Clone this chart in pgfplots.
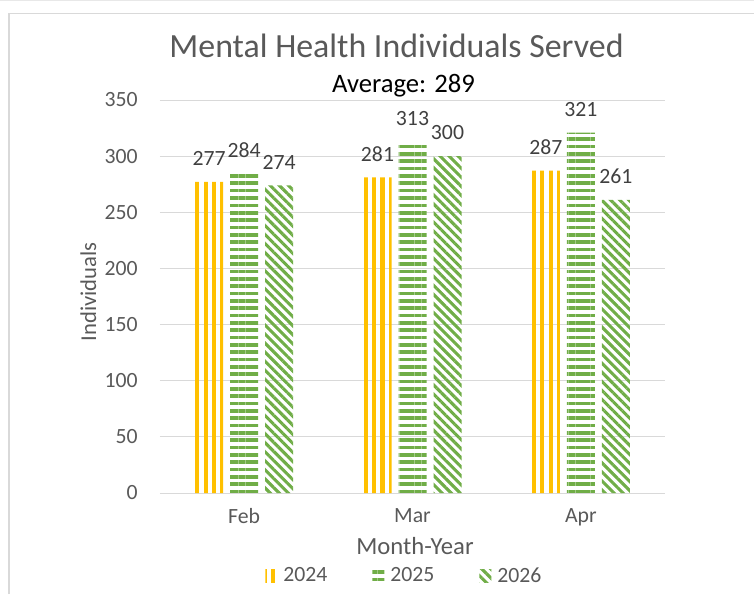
\documentclass[border=0pt]{standalone}
\usepackage{pgfplots}
\pgfplotsset{compat=1.18}
\usepackage{fontspec}
\setmainfont{Carlito}
\usetikzlibrary{patterns.meta}
\definecolor{ylw}{HTML}{FFC000}
\definecolor{grn}{HTML}{70AD47}
\definecolor{txt}{HTML}{595959}
\definecolor{lbl}{HTML}{404040}
\definecolor{grd}{HTML}{D9D9D9}
\begin{document}
\begin{tikzpicture}
\useasboundingbox (0,0) rectangle (565.5pt,445.5pt);
\draw[grd!60, line width=0.75pt] (0,445.1pt) -- (565.5pt,445.1pt);
\draw[grd, line width=0.75pt] (6pt,435.4pt) -- (565.5pt,435.4pt);
\draw[grd, line width=1.5pt] (6.75pt,0) -- (6.75pt,435.4pt);
\begin{axis}[
  at={(120pt,75.75pt)}, anchor=south west,
  scale only axis, width=378.75pt, height=294.75pt,
  ybar, bar width=21pt, ybar=5.25pt,
  xmin=-0.5, xmax=2.5, ymin=0, ymax=350,
  xtick={0,1,2}, xticklabels={Feb,Mar,Apr},
  ytick={0,50,...,350},
  axis line style={draw=none},
  major tick length=0pt,
  ymajorgrids, major grid style={grd, line width=0.75pt},
  tick label style={font=\fontsize{16.3}{18}\selectfont, text=txt, inner sep=0pt},
  xticklabel style={anchor=north, yshift=-11.25pt},
  yticklabel style={anchor=east, xshift=-16.5pt},
  /pgf/number format/assume math mode=true,
  nodes near coords,
  every node near coord/.append style={font=\fontsize{16.3}{18}\selectfont, text=lbl, inner sep=0pt, anchor=south, yshift=12pt},
  legend columns=3,
  legend style={at={(0.482,-0.211)}, anchor=center, draw=none, fill=none,
    font=\fontsize{16.3}{18}\selectfont, text=txt,
    /tikz/every even column/.append style={column sep=33.75pt},
    /tikz/every odd column/.append style={column sep=4.5pt},
    nodes={inner sep=0pt}},
  legend image code/.code={\fill[#1] (0pt,-4.875pt) rectangle (9pt,4.875pt);},
]
\addplot[draw=none, pattern={Lines[angle=90, distance=6.3125pt, line width=3.15pt, xshift=2.79pt]}, pattern color=ylw] coordinates {(0,277) (1,281) (2,287)};
\addplot[draw=none, pattern={Lines[angle=0, distance=5.5pt, line width=2.75pt]}, pattern color=grn] coordinates {(0,284) (1,313) (2,321)};
\addplot[draw=none, pattern={Lines[angle=-45, distance=4.8pt, line width=2.3pt]}, pattern color=grn] coordinates {(0,274) (1,300) (2,261)};
\legend{2024,2025,2026}
\end{axis}
\node[anchor=base, font=\fontsize{25.4}{30}\selectfont, text=txt, inner sep=0pt] at (297.4pt,402pt) {Mental Health Individuals Served};
\node[anchor=base, font=\fontsize{20}{24}\selectfont, text=black, inner sep=0pt] at (302.6pt,375.75pt) {Average: 289};
\node[anchor=base, font=\fontsize{18.5}{22}\selectfont, text=txt, inner sep=0pt] at (311.25pt,30pt) {Month-Year};
\node[anchor=base, rotate=90, font=\fontsize{17}{20}\selectfont, text=txt, inner sep=0pt] at (72pt,226.5pt) {Individuals};
\end{tikzpicture}
\end{document}
